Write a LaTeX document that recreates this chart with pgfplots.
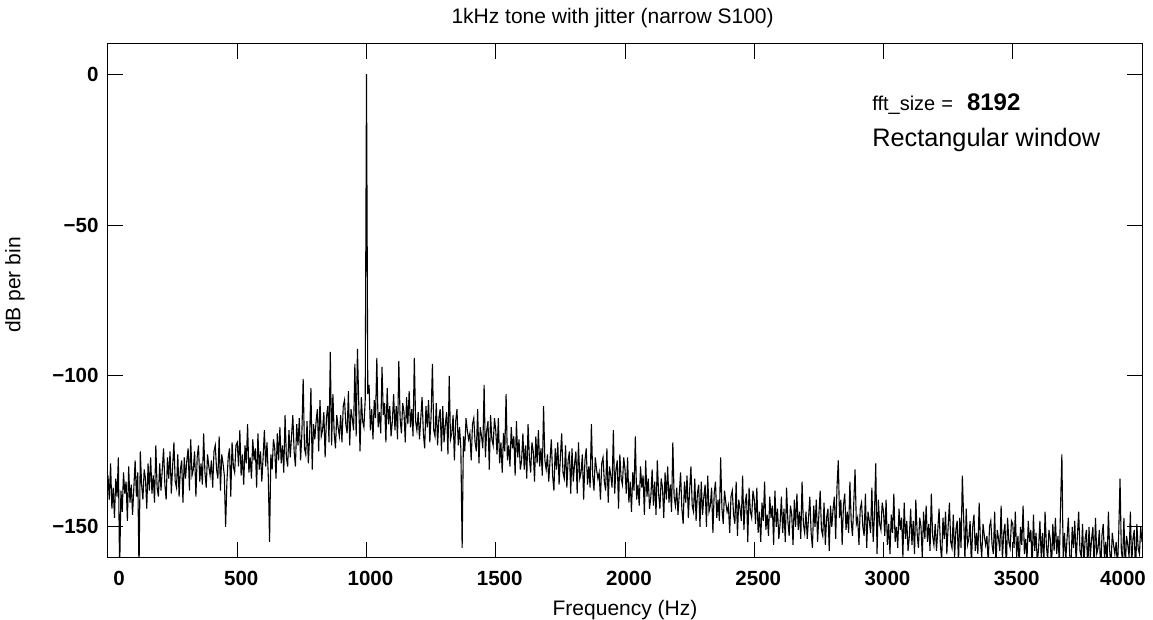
\documentclass[border=0pt]{standalone}
\usepackage{pgfplots}
\pgfplotsset{compat=1.18}
\usetikzlibrary{calc}
\usepackage{fontspec}
\setmainfont{Liberation Sans}
\begin{document}
\begin{tikzpicture}
\begin{axis}[
  scale only axis, width=1034pt, height=513pt,
  xmin=0, xmax=4000, ymin=-160, ymax=10,
  axis line style={line width=1pt},
  tick align=inside, major tick length=15pt,
  tick style={black, line width=1pt},
  xtick={0,500,1000,1500,2000,2500,3000,3500,4000},
  xticklabels={,500,1000,1500,2000,2500,3000,3500,},
  ytick={-150,-100,-50,0},
  yticklabels={−150,−100,−50,0},
  ticklabel style={font=\fontsize{20.5}{23}\selectfont\bfseries},
  xticklabel style={yshift=-11pt, xshift=4pt},
  yticklabel style={xshift=-6pt},
  clip=true,
]
\addplot[black, line width=1.1pt] coordinates {
(0,-133)(5,-141)(10,-129)(15,-144)(20,-137)(25,-147)(30,-134)(35,-140)(40,-127)(45,-165)(50,-138)(55,-145)(60,-132)(65,-139)(70,-135)(75,-148)(80,-130)(85,-142)(90,-136)(95,-146)
(100,-137)(105,-128)(110,-140)(115,-132)(120,-165)(125,-125)(130,-136)(135,-141)(140,-131)(145,-134)(150,-144)(155,-129)(160,-138)(165,-127)(170,-139)(175,-133)(180,-142)(185,-123)(190,-137)(195,-140)
(200,-129)(205,-138)(210,-131)(215,-124)(220,-136)(225,-141)(230,-127)(235,-134)(240,-125)(245,-139)(250,-130)(255,-122)(260,-135)(265,-137)(270,-126)(275,-140)(280,-131)(285,-128)(290,-142)(295,-127)
(300,-134)(305,-128)(310,-124)(315,-138)(320,-121)(325,-133)(330,-131)(335,-125)(340,-140)(345,-127)(350,-123)(355,-135)(360,-129)(365,-136)(370,-119)(375,-132)(380,-137)(385,-126)(390,-130)(395,-133)
(400,-128)(405,-137)(410,-125)(415,-123)(420,-131)(425,-134)(430,-120)(435,-138)(440,-126)(445,-129)(450,-133)(455,-150)(460,-135)(465,-127)(470,-124)(475,-140)(480,-122)(485,-130)(490,-132)(495,-123)
(500,-122)(505,-130)(510,-118)(515,-133)(520,-126)(525,-136)(530,-123)(535,-129)(540,-116)(545,-132)(550,-127)(555,-134)(560,-121)(565,-128)(570,-124)(575,-137)(580,-119)(585,-131)(590,-125)(595,-135)
(600,-127)(605,-118)(610,-130)(615,-122)(620,-133)(625,-155)(630,-126)(635,-131)(640,-121)(645,-124)(650,-134)(655,-119)(660,-128)(665,-117)(670,-129)(675,-123)(680,-132)(685,-113)(690,-127)(695,-130)
(700,-118)(705,-127)(710,-120)(715,-113)(720,-125)(725,-130)(730,-116)(735,-123)(740,-114)(745,-128)(750,-119)(755,-101)(760,-124)(765,-126)(770,-115)(775,-129)(780,-120)(785,-104)(790,-131)(795,-116)
(800,-121)(805,-115)(810,-111)(815,-125)(820,-108)(825,-120)(830,-118)(835,-112)(840,-127)(845,-114)(850,-110)(855,-122)(860,-92)(865,-123)(870,-106)(875,-119)(880,-124)(885,-113)(890,-117)(895,-120)
(900,-113)(905,-122)(910,-110)(915,-108)(920,-116)(925,-119)(930,-105)(935,-123)(940,-111)(945,-114)(950,-118)(955,-96)(960,-120)(965,-91)(970,-109)(975,-125)(980,-107)(985,-115)(990,-117)(995,-108)
(1000,0)
(1005,-106)(1010,-103)(1015,-118)(1020,-111)(1025,-121)(1030,-108)(1035,-114)(1040,-94)(1045,-117)(1050,-112)(1055,-119)(1060,-97)(1065,-113)(1070,-109)(1075,-122)(1080,-104)(1085,-116)(1090,-110)(1095,-120)
(1100,-115)(1105,-106)(1110,-118)(1115,-110)(1120,-121)(1125,-95)(1130,-114)(1135,-119)(1140,-109)(1145,-112)(1150,-122)(1155,-107)(1160,-116)(1165,-105)(1170,-117)(1175,-111)(1180,-120)(1185,-94)(1190,-115)(1195,-118)
(1200,-112)(1205,-121)(1210,-114)(1215,-107)(1220,-119)(1225,-124)(1230,-110)(1235,-117)(1240,-108)(1245,-122)(1250,-113)(1255,-96)(1260,-118)(1265,-120)(1270,-109)(1275,-123)(1280,-114)(1285,-111)(1290,-125)(1295,-110)
(1300,-122)(1305,-116)(1310,-112)(1315,-126)(1320,-100)(1325,-121)(1330,-119)(1335,-113)(1340,-128)(1345,-115)(1350,-111)(1355,-123)(1360,-117)(1365,-124)(1370,-157)(1375,-120)(1380,-125)(1385,-114)(1390,-118)(1395,-121)
(1400,-119)(1405,-128)(1410,-116)(1415,-114)(1420,-122)(1425,-125)(1430,-111)(1435,-129)(1440,-117)(1445,-120)(1450,-124)(1455,-103)(1460,-127)(1465,-118)(1470,-115)(1475,-131)(1480,-113)(1485,-121)(1490,-123)(1495,-114)
(1500,-118)(1505,-126)(1510,-114)(1515,-129)(1520,-122)(1525,-132)(1530,-119)(1535,-125)(1540,-106)(1545,-128)(1550,-123)(1555,-130)(1560,-117)(1565,-124)(1570,-120)(1575,-133)(1580,-115)(1585,-127)(1590,-121)(1595,-131)
(1600,-128)(1605,-119)(1610,-131)(1615,-123)(1620,-134)(1625,-116)(1630,-127)(1635,-132)(1640,-122)(1645,-125)(1650,-135)(1655,-120)(1660,-129)(1665,-118)(1670,-130)(1675,-124)(1680,-133)(1685,-110)(1690,-128)(1695,-131)
(1700,-126)(1705,-135)(1710,-128)(1715,-121)(1720,-133)(1725,-138)(1730,-124)(1735,-131)(1740,-122)(1745,-136)(1750,-127)(1755,-119)(1760,-132)(1765,-134)(1770,-123)(1775,-137)(1780,-128)(1785,-125)(1790,-139)(1795,-124)
(1800,-135)(1805,-129)(1810,-125)(1815,-139)(1820,-122)(1825,-134)(1830,-132)(1835,-126)(1840,-141)(1845,-128)(1850,-124)(1855,-136)(1860,-130)(1865,-137)(1870,-116)(1875,-133)(1880,-138)(1885,-127)(1890,-131)(1895,-134)
(1900,-132)(1905,-141)(1910,-129)(1915,-127)(1920,-135)(1925,-138)(1930,-124)(1935,-142)(1940,-130)(1945,-133)(1950,-137)(1955,-118)(1960,-139)(1965,-131)(1970,-128)(1975,-144)(1980,-126)(1985,-134)(1990,-136)(1995,-127)
(2000,-131)(2005,-139)(2010,-127)(2015,-142)(2020,-135)(2025,-145)(2030,-132)(2035,-138)(2040,-120)(2045,-141)(2050,-136)(2055,-143)(2060,-130)(2065,-137)(2070,-133)(2075,-146)(2080,-128)(2085,-140)(2090,-134)(2095,-144)
(2100,-140)(2105,-131)(2110,-143)(2115,-135)(2120,-146)(2125,-128)(2130,-139)(2135,-144)(2140,-134)(2145,-137)(2150,-147)(2155,-132)(2160,-141)(2165,-130)(2170,-142)(2175,-136)(2180,-145)(2185,-122)(2190,-140)(2195,-143)
(2200,-137)(2205,-146)(2210,-139)(2215,-132)(2220,-144)(2225,-149)(2230,-135)(2235,-142)(2240,-133)(2245,-147)(2250,-138)(2255,-130)(2260,-143)(2265,-145)(2270,-134)(2275,-148)(2280,-139)(2285,-136)(2290,-150)(2295,-135)
(2300,-146)(2305,-140)(2310,-136)(2315,-150)(2320,-133)(2325,-145)(2330,-143)(2335,-137)(2340,-152)(2345,-139)(2350,-135)(2355,-147)(2360,-141)(2365,-148)(2370,-127)(2375,-144)(2380,-149)(2385,-138)(2390,-142)(2395,-145)
(2400,-143)(2405,-152)(2410,-140)(2415,-138)(2420,-146)(2425,-149)(2430,-135)(2435,-153)(2440,-141)(2445,-144)(2450,-148)(2455,-133)(2460,-151)(2465,-142)(2470,-139)(2475,-155)(2480,-137)(2485,-145)(2490,-147)(2495,-138)
(2500,-141)(2505,-149)(2510,-137)(2515,-152)(2520,-145)(2525,-155)(2530,-142)(2535,-148)(2540,-135)(2545,-151)(2550,-146)(2555,-153)(2560,-140)(2565,-147)(2570,-143)(2575,-156)(2580,-138)(2585,-150)(2590,-144)(2595,-154)
(2600,-149)(2605,-140)(2610,-152)(2615,-144)(2620,-155)(2625,-137)(2630,-148)(2635,-153)(2640,-143)(2645,-146)(2650,-156)(2655,-141)(2660,-150)(2665,-139)(2670,-151)(2675,-145)(2680,-154)(2685,-135)(2690,-149)(2695,-152)
(2700,-145)(2705,-154)(2710,-147)(2715,-140)(2720,-152)(2725,-157)(2730,-143)(2735,-150)(2740,-141)(2745,-155)(2750,-146)(2755,-138)(2760,-151)(2765,-153)(2770,-142)(2775,-156)(2780,-147)(2785,-144)(2790,-158)(2795,-143)
(2800,-150)(2805,-144)(2810,-140)(2815,-154)(2820,-137)(2825,-128)(2830,-147)(2835,-141)(2840,-156)(2845,-143)(2850,-139)(2855,-151)(2860,-145)(2865,-152)(2870,-135)(2875,-148)(2880,-153)(2885,-142)(2890,-131)(2895,-149)
(2900,-147)(2905,-156)(2910,-144)(2915,-142)(2920,-150)(2925,-153)(2930,-139)(2935,-157)(2940,-145)(2945,-148)(2950,-152)(2955,-137)(2960,-155)(2965,-146)(2970,-129)(2975,-159)(2980,-141)(2985,-149)(2990,-151)(2995,-142)
(3000,-145)(3005,-153)(3010,-141)(3015,-156)(3020,-149)(3025,-159)(3030,-146)(3035,-152)(3040,-139)(3045,-155)(3050,-150)(3055,-157)(3060,-144)(3065,-151)(3070,-147)(3075,-160)(3080,-142)(3085,-154)(3090,-148)(3095,-158)
(3100,-153)(3105,-144)(3110,-156)(3115,-148)(3120,-159)(3125,-141)(3130,-152)(3135,-157)(3140,-147)(3145,-150)(3150,-160)(3155,-145)(3160,-154)(3165,-143)(3170,-155)(3175,-149)(3180,-158)(3185,-139)(3190,-153)(3195,-156)
(3200,-149)(3205,-158)(3210,-151)(3215,-144)(3220,-156)(3225,-161)(3230,-147)(3235,-154)(3240,-145)(3245,-159)(3250,-150)(3255,-142)(3260,-155)(3265,-157)(3270,-146)(3275,-160)(3280,-151)(3285,-148)(3290,-162)(3295,-147)
(3300,-157)(3305,-133)(3310,-147)(3315,-161)(3320,-144)(3325,-156)(3330,-154)(3335,-148)(3340,-163)(3345,-150)(3350,-146)(3355,-158)(3360,-152)(3365,-159)(3370,-142)(3375,-155)(3380,-160)(3385,-149)(3390,-153)(3395,-156)
(3400,-153)(3405,-162)(3410,-150)(3415,-148)(3420,-156)(3425,-159)(3430,-145)(3435,-163)(3440,-151)(3445,-154)(3450,-158)(3455,-143)(3460,-161)(3465,-152)(3470,-149)(3475,-165)(3480,-147)(3485,-155)(3490,-157)(3495,-148)
(3500,-149)(3505,-157)(3510,-145)(3515,-160)(3520,-153)(3525,-163)(3530,-150)(3535,-156)(3540,-143)(3545,-159)(3550,-154)(3555,-161)(3560,-148)(3565,-155)(3570,-151)(3575,-164)(3580,-146)(3585,-158)(3590,-152)(3595,-162)
(3600,-157)(3605,-148)(3610,-160)(3615,-152)(3620,-163)(3625,-145)(3630,-156)(3635,-161)(3640,-151)(3645,-154)(3650,-164)(3655,-149)(3660,-158)(3665,-147)(3670,-159)(3675,-153)(3680,-162)(3685,-143)(3690,-126)(3695,-160)
(3700,-152)(3705,-161)(3710,-154)(3715,-147)(3720,-159)(3725,-164)(3730,-150)(3735,-157)(3740,-148)(3745,-162)(3750,-153)(3755,-145)(3760,-158)(3765,-160)(3770,-149)(3775,-163)(3780,-154)(3785,-151)(3790,-165)(3795,-150)
(3800,-160)(3805,-154)(3810,-150)(3815,-164)(3820,-147)(3825,-159)(3830,-157)(3835,-151)(3840,-166)(3845,-153)(3850,-149)(3855,-161)(3860,-155)(3865,-162)(3870,-145)(3875,-158)(3880,-163)(3885,-152)(3890,-156)(3895,-159)
(3900,-155)(3905,-164)(3910,-152)(3915,-134)(3920,-158)(3925,-161)(3930,-147)(3935,-165)(3940,-153)(3945,-156)(3950,-160)(3955,-145)(3960,-163)(3965,-154)(3970,-151)(3975,-167)(3980,-149)(3985,-157)(3990,-159)(3995,-150)
(4000,-155)
};
\node[anchor=base west, inner sep=0pt] at (rel axis cs:0.739,0.871) {\fontsize{20}{22}\selectfont fft\_size\hspace{6pt}=\hspace{14pt}\fontsize{24}{26}\selectfont\bfseries 8192};
\node[anchor=base west, inner sep=0pt] at (rel axis cs:0.739,0.801) {\fontsize{25.3}{28}\selectfont Rectangular window};
\end{axis}
\node[anchor=north, font=\fontsize{20.5}{23}\selectfont\bfseries] at ([xshift=11pt,yshift=-11pt]current axis.south west) {0};
\node[anchor=north, font=\fontsize{20.5}{23}\selectfont\bfseries] at ([xshift=-19pt,yshift=-11pt]current axis.south east) {4000};
\node[anchor=base, inner sep=0pt] at ([yshift=20pt]$(current axis.north west)!0.488!(current axis.north east)$) {\fontsize{21}{23}\selectfont 1kHz tone with jitter (narrow S100)};
\node[anchor=base, inner sep=0pt] at ([yshift=-58pt]$(current axis.south west)!0.5!(current axis.south east)$) {\fontsize{21}{23}\selectfont Frequency (Hz)};
\node[anchor=center, rotate=90, inner sep=0pt] at ([xshift=-93pt]$(current axis.south west)!0.53!(current axis.north west)$) {\fontsize{21}{23}\selectfont dB per bin};
\pgfresetboundingbox
\path[use as bounding box] ([xshift=-108pt,yshift=-62pt]current axis.south west) rectangle ([xshift=11pt,yshift=44pt]current axis.north east);
\end{tikzpicture}
\end{document}
